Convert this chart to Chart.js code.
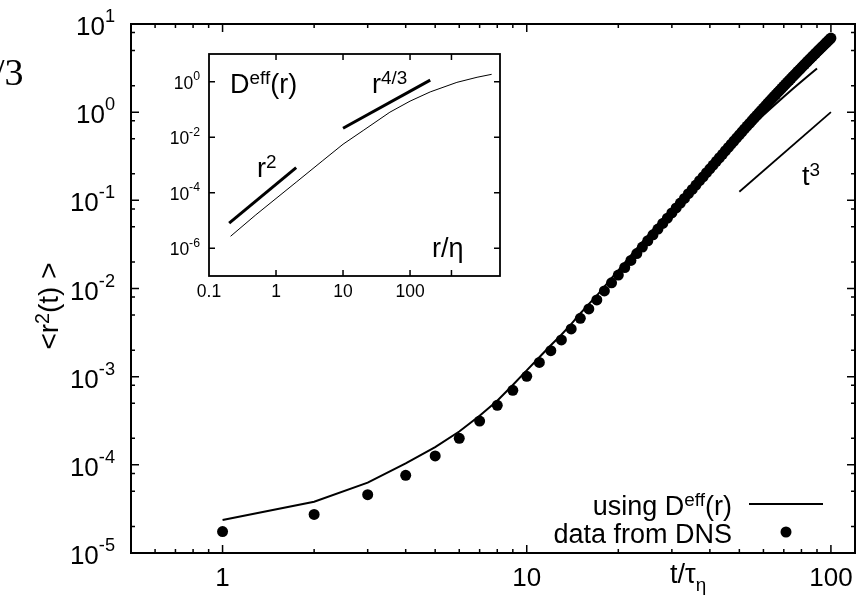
<!DOCTYPE html>
<html><head><meta charset="utf-8">
<script src="https://cdn.jsdelivr.net/npm/chart.js@4.4.1/dist/chart.umd.min.js"></script>
<style>
html,body{margin:0;padding:0;background:#fff;}
#wrap{position:relative;width:864px;height:605px;overflow:hidden;}
#main{position:absolute;left:0;top:0;}
#inset{position:absolute;left:150px;top:40px;}
</style></head><body>
<div id="wrap">
<canvas id="main" width="864" height="605"></canvas>
<canvas id="inset" width="360" height="270"></canvas>
</div>
<script>
// ---------- data: main panel ----------
const dnsTime = [1,2,3,4,5,6,7,8,9,10,11,12,13,14,15,16,17,18,19,20,21,22,23,24,25,26,27,28,29,30,31,32,33,34,35,36,37,38,39,40,41,42,43,44,45,46,47,48,49,50,51,52,53,54,55,56,57,58,59,60,61,62,63,64,65,66,67,68,69,70,71,72,73,74,75,76,77,78,79,80,81,82,83,84,85,86,87,88,89,90,91,92,93,94,95,96,97,98,99,100];
const dnsR2 = [1.75e-5,2.74e-5,4.58e-5,7.60e-5,1.26e-4,2.00e-4,3.14e-4,4.73e-4,7.01e-4,1.01e-3,
  1.45e-3,1.97e-3,2.61e-3,3.48e-3,4.59e-3,5.86e-3,7.41e-3,9.38e-3,1.16e-2,1.42e-2,
  1.73e-2,2.08e-2,2.49e-2,2.95e-2,3.48e-2,4.06e-2,4.72e-2,5.47e-2,6.28e-2,7.19e-2,
  8.20e-2,9.31e-2,0.105,0.119,0.133,0.149,0.167,0.185,0.206,0.228,
  0.251,0.277,0.304,0.333,0.365,0.398,0.434,0.471,0.512,0.553,
  0.598,0.646,0.695,0.746,0.802,0.859,0.918,0.982,1.047,1.114,
  1.189,1.262,1.340,1.422,1.507,1.592,1.683,1.778,1.875,1.977,
  2.084,2.193,2.301,2.421,2.541,2.661,2.793,2.924,3.055,3.199,
  3.342,3.491,3.639,3.802,3.963,4.121,4.295,4.467,4.645,4.831,
  5.012,5.212,5.408,5.610,5.808,6.026,6.237,6.457,6.683,6.918];
const deffTime = [1,2,3,4,5,6,7,8,9,10,11,12,13,14,15,16,17,18,19,20,22,25,28,32,36,40,45,50,55,60,65,70,75,80,85,90];
const deffR2 = [2.37e-5,3.82e-5,6.28e-5,1.04e-4,1.585e-4,2.39e-4,3.61e-4,5.33e-4,8.04e-4,1.18e-3,
  1.66e-3,2.27e-3,2.99e-3,3.95e-3,5.21e-3,6.65e-3,8.32e-3,1.05e-2,1.31e-2,1.60e-2,
  2.37e-2,3.98e-2,6.22e-2,0.104,0.161,0.236,0.356,0.509,0.698,0.926,1.191,1.497,1.845,2.233,2.661,3.133];
const t3Time = [50, 100];
const t3R2 = [0.125, 1.0];
const mainXTicks = [1, 10, 100];
const mainXMinor = [0.6,0.7,0.8,0.9,2,3,4,5,6,7,8,9,20,30,40,50,60,70,80,90];
const mainYTicks = [1e-5,1e-4,1e-3,1e-2,1e-1,1,10];
const mainYMinor = [2e-5,5e-5,8e-5,2e-4,5e-4,8e-4,2e-3,5e-3,8e-3,2e-2,5e-2,8e-2,0.2,0.5,0.8,2,5,8];

// ---------- data: inset ----------
const insetR = [0.21,0.5,1,2,5,10,20,50,100,200,500,1000,1650];
const insetD = [2.7e-6,1.6e-5,6.2e-5,2.4e-4,1.45e-3,5.6e-3,1.75e-2,8.0e-2,0.2,0.43,0.95,1.45,1.85];
const r2R = [0.2, 2];
const r2D = [8e-6, 8e-4];
const r43R = [10, 200];
const r43D = [0.021, 1.14];
const insetXTicks = [0.1, 1, 10, 100];
const insetXMarks = [1, 10, 100, 415];
const insetYTicks = [1e-6, 1e-4, 1e-2, 1];

const SANS = '"Liberation Sans", Arial, Helvetica, sans-serif';
const SERIF = '"Liberation Serif", "Times New Roman", serif';

function drawRich(ctx, parts, x, y, size, align, raise, family) {
  family = family || SANS;
  raise = (raise == null) ? 0.32 : raise;
  const sizes = parts.map(p => (p.sup || p.sub) ? size * 0.7 : size);
  const ws = [];
  let total = 0;
  parts.forEach((p, i) => {
    ctx.font = sizes[i] + 'px ' + family;
    const w = ctx.measureText(p.t).width;
    ws.push(w); total += w;
  });
  let cx = align === 'right' ? x - total : (align === 'center' ? x - total / 2 : x);
  ctx.textAlign = 'left';
  ctx.textBaseline = 'alphabetic';
  parts.forEach((p, i) => {
    ctx.font = sizes[i] + 'px ' + family;
    const dy = p.sup ? -raise * size : (p.sub ? 0.28 * size : 0);
    ctx.fillText(p.t, cx, y + dy);
    cx += ws[i];
  });
}

const frameTicks = {
  id: 'frameTicks',
  afterDraw(chart, args, o) {
    const ctx = chart.ctx, a = chart.chartArea, sx = chart.scales.x, sy = chart.scales.y;
    ctx.save();
    ctx.strokeStyle = '#000';
    ctx.lineWidth = o.tickWidth;
    ctx.beginPath();
    const xt = (v, len) => {
      const px = sx.getPixelForValue(v);
      ctx.moveTo(px, a.bottom); ctx.lineTo(px, a.bottom - len);
      ctx.moveTo(px, a.top); ctx.lineTo(px, a.top + len);
    };
    const yt = (v, len) => {
      const py = sy.getPixelForValue(v);
      ctx.moveTo(a.left, py); ctx.lineTo(a.left + len, py);
      ctx.moveTo(a.right, py); ctx.lineTo(a.right - len, py);
    };
    o.xMajor.forEach(v => xt(v, o.majorLen));
    (o.xMinor || []).forEach(v => xt(v, o.minorLen));
    o.yMajor.forEach(v => yt(v, o.majorLen));
    (o.yMinor || []).forEach(v => yt(v, o.minorLen));
    ctx.stroke();
    ctx.lineWidth = o.borderWidth;
    ctx.strokeRect(a.left, a.top, a.right - a.left, a.bottom - a.top);
    ctx.restore();
  }
};

const mainText = {
  id: 'mainText',
  afterDraw(chart) {
    const ctx = chart.ctx, a = chart.chartArea, sy = chart.scales.y;
    ctx.save();
    ctx.fillStyle = '#000';
    // y tick labels 10^k
    mainYTicks.forEach(v => {
      const py = sy.getPixelForValue(v);
      const e = Math.round(Math.log10(v));
      drawRich(ctx, [{t: '10'}, {t: String(e), sup: true}], a.left - 16, py + 11, 26, 'right', 0.5);
    });
    // y title
    ctx.save();
    ctx.translate(48, 306);
    ctx.rotate(-Math.PI / 2);
    drawRich(ctx, [{t: '<r'}, {t: '2', sup: true}, {t: '(t) >'}], 0, 10, 28, 'center');
    ctx.restore();
    // x title
    drawRich(ctx, [{t: 't/\u03C4'}, {t: '\u03B7', sub: true}], 670, 583, 27, 'left');
    // t^3 label
    drawRich(ctx, [{t: 't'}, {t: '3', sup: true}], 802, 185, 27, 'left');
    // legend
    drawRich(ctx, [{t: 'using D'}, {t: 'eff', sup: true}, {t: '(r)'}], 732, 515, 27, 'right');
    drawRich(ctx, [{t: 'data from DNS'}], 732, 543, 27, 'right');
    ctx.strokeStyle = '#000';
    ctx.lineWidth = 2;
    ctx.beginPath(); ctx.moveTo(749, 504); ctx.lineTo(823, 504); ctx.stroke();
    ctx.beginPath(); ctx.arc(786, 532, 5.5, 0, Math.PI * 2); ctx.fill();
    // cut-off text at top-left
    ctx.font = '38px ' + SERIF;
    ctx.textAlign = 'left'; ctx.textBaseline = 'alphabetic';
    ctx.fillText('/3', -6, 85);
    ctx.restore();
  }
};

new Chart(document.getElementById('main'), {
  type: 'line',
  data: {
    datasets: [
      { label: 'using Deff(r)', data: deffTime.map((t, i) => ({x: t, y: deffR2[i]})),
        borderColor: '#000', borderWidth: 2, pointRadius: 0, fill: false, tension: 0 },
      { label: 'data from DNS', data: dnsTime.map((t, i) => ({x: t, y: dnsR2[i]})),
        showLine: false, pointRadius: 5.5, pointBackgroundColor: '#000', pointBorderWidth: 0, borderColor: '#000' },
      { label: 't^3', data: t3Time.map((t, i) => ({x: t, y: t3R2[i]})),
        borderColor: '#000', borderWidth: 1.8, pointRadius: 0, fill: false }
    ]
  },
  options: {
    responsive: false, animation: false, devicePixelRatio: 1,
    layout: {padding: {left: 0, right: 9, top: 24, bottom: 0}},
    plugins: {
      legend: {display: false}, tooltip: {enabled: false},
      frameTicks: {xMajor: mainXTicks, xMinor: mainXMinor, yMajor: mainYTicks, yMinor: mainYMinor,
        majorLen: 8, minorLen: 4, tickWidth: 1.5, borderWidth: 2}
    },
    scales: {
      x: {type: 'logarithmic', min: 0.5, max: 120,
        grid: {display: false, drawTicks: false}, border: {display: false},
        afterBuildTicks: s => { s.ticks = mainXTicks.map(v => ({value: v})); },
        afterFit: s => { s.height = 52; },
        ticks: {autoSkip: false, maxRotation: 0, minRotation: 0, padding: 10, color: '#000',
          font: {family: SANS, size: 26}, callback: v => String(v)}},
      y: {type: 'logarithmic', min: 1e-5, max: 10,
        grid: {display: false, drawTicks: false}, border: {display: false},
        afterBuildTicks: s => { s.ticks = mainYTicks.map(v => ({value: v})); },
        afterFit: s => { s.width = 131; },
        ticks: {display: false}}
    }
  },
  plugins: [frameTicks, mainText]
});

const insetText = {
  id: 'insetText',
  afterDraw(chart) {
    const ctx = chart.ctx, a = chart.chartArea, sy = chart.scales.y;
    ctx.save();
    ctx.fillStyle = '#000';
    insetYTicks.forEach(v => {
      const py = sy.getPixelForValue(v);
      const e = Math.round(Math.log10(v));
      drawRich(ctx, [{t: '10'}, {t: String(e), sup: true}], a.left - 9, py + 7, 17.5, 'right', 0.5);
    });
    drawRich(ctx, [{t: 'D'}, {t: 'eff', sup: true}, {t: '(r)'}], 80, 53, 27, 'left');
    drawRich(ctx, [{t: 'r'}, {t: '4/3', sup: true}], 222, 53, 27, 'left');
    drawRich(ctx, [{t: 'r'}, {t: '2', sup: true}], 107, 137, 27, 'left');
    drawRich(ctx, [{t: 'r/\u03B7'}], 282, 217, 27, 'left');
    ctx.restore();
  }
};

new Chart(document.getElementById('inset'), {
  type: 'line',
  data: {
    datasets: [
      { label: 'Deff(r)', data: insetR.map((r, i) => ({x: r, y: insetD[i]})),
        borderColor: '#000', borderWidth: 1, pointRadius: 0, fill: false, tension: 0 },
      { label: 'r^2', data: r2R.map((r, i) => ({x: r, y: r2D[i]})),
        borderColor: '#000', borderWidth: 3, pointRadius: 0, fill: false },
      { label: 'r^4/3', data: r43R.map((r, i) => ({x: r, y: r43D[i]})),
        borderColor: '#000', borderWidth: 3, pointRadius: 0, fill: false }
    ]
  },
  options: {
    responsive: false, animation: false, devicePixelRatio: 1,
    layout: {padding: {left: 0, right: 10, top: 14, bottom: 0}},
    plugins: {
      legend: {display: false}, tooltip: {enabled: false},
      frameTicks: {xMajor: insetXMarks, yMajor: insetYTicks, majorLen: 6, minorLen: 3, tickWidth: 1.5, borderWidth: 1.8}
    },
    scales: {
      x: {type: 'logarithmic', min: 0.1, max: 2200,
        grid: {display: false, drawTicks: false}, border: {display: false},
        afterBuildTicks: s => { s.ticks = insetXTicks.map(v => ({value: v})); },
        afterFit: s => { s.height = 34; },
        ticks: {autoSkip: false, maxRotation: 0, minRotation: 0, padding: 6, color: '#000',
          font: {family: SANS, size: 17.5}, callback: v => String(v)}},
      y: {type: 'logarithmic', min: 1e-7, max: 10,
        grid: {display: false, drawTicks: false}, border: {display: false},
        afterBuildTicks: s => { s.ticks = insetYTicks.map(v => ({value: v})); },
        afterFit: s => { s.width = 59; },
        ticks: {display: false}}
    }
  },
  plugins: [frameTicks, insetText]
});
</script>
</body></html>
